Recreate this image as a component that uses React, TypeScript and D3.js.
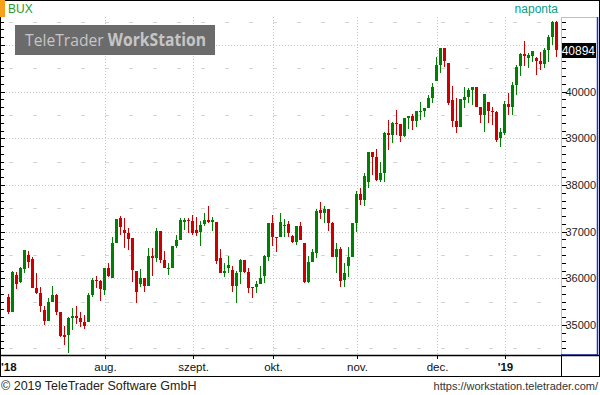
import React from 'react';
import * as d3 from 'd3';

const monthLabels = ["'18", 'aug.', 'szept.', 'okt.', 'nov.', 'dec.', "'19"];
const monthStart = [1, 25, 47, 67, 88, 108, 125];
const monthBold = [true, false, false, false, false, false, true];
const monthGrid = [false, true, true, true, true, true, true];

const openV = [35594,35285,36072,35928,36200,36500,36415,35800,35680,35322,35092,35500,35643,35285,34792,34786,35157,35193,35157,35071,35071,35643,35965,35943,35750,36215,36001,36751,37287,37036,36978,36858,36157,35872,36014,35842,36485,36442,37015,36393,36194,36215,36700,36822,37214,37257,37229,37036,36987,37154,37250,37214,37201,36430,36121,36228,36179,35836,36142,36393,36142,35808,35821,35879,36050,36464,37193,36893,36893,37128,37165,36908,36785,37122,36751,35928,36357,36537,37465,37407,37486,37193,36464,36622,35965,36254,36464,37180,37808,37679,38071,38714,38594,38108,38264,39121,39072,39336,39308,39050,39430,39479,39378,39571,39593,39644,39858,40236,40572,40930,40608,39822,39372,39250,39822,39893,40036,40107,39666,39500,39786,39586,39558,39001,39108,39730,39678,40143,40557,40801,40729,40771,40729,40658,40587,40894,41179,41487];
const highV = [35665,36157,36142,36250,36608,36592,36464,36108,35808,35407,35585,35836,35665,35285,34979,35165,35371,35407,35285,35214,35680,36001,36050,35965,36215,36322,36880,37272,37336,37287,37072,36858,36157,36200,36014,36644,36644,37072,37015,36586,36322,36700,36929,37287,37300,37287,37357,37321,37229,37400,37550,37321,37201,36622,36322,36479,36265,36157,36415,36393,36215,35808,35943,36265,36500,37193,37357,36893,37394,37265,37229,36930,37122,37214,36751,36479,36622,37480,37630,37550,37486,37208,36764,36665,36322,36678,37180,37878,37930,38264,38714,38714,38765,38500,39143,39393,39357,39608,39308,39430,39479,39522,39593,39786,39644,39929,40193,40750,40930,40930,40608,40122,39858,39837,40094,40073,40107,40107,39666,39951,39786,39678,39586,39222,39801,39966,40214,40572,40823,41086,40823,40872,40750,40857,40930,41215,41515,41515];
const lowV = [35236,35279,35765,35907,36121,36215,35800,35658,35285,35000,35092,35500,35214,34737,34572,34407,34893,35022,34964,34915,35071,35607,35787,35521,35643,36022,36001,36751,36929,36644,36608,35922,35482,35821,35714,35842,36050,36357,36322,36215,36072,36215,36644,36822,37036,36965,36929,36914,36700,37122,37193,37021,36307,36121,36035,36121,35714,35478,35879,36115,35680,35585,35692,35879,35894,36378,36693,36571,36893,36893,36893,36760,36715,36822,35907,35907,36357,36430,37265,37193,37021,36464,36108,35821,35821,36029,36464,37000,37572,37557,37930,38215,38093,38071,38071,38750,38907,39072,38928,39023,39194,39179,39250,39393,39464,39644,39751,40236,40394,40523,39715,39237,39121,39250,39644,39751,39715,39666,39323,39136,39323,39286,38922,38821,39072,39500,39500,39929,40343,40557,40501,40643,40358,40465,40501,40643,41001,40744];
const closeV = [35285,36142,35879,36215,36608,36357,35800,35692,35407,35092,35500,35643,35285,34764,34750,35144,35193,35157,35071,34985,35643,35965,35943,35765,36215,36050,36751,37272,37107,36965,36837,36179,35714,36014,35842,36485,36442,37015,36393,36215,36215,36700,36822,37250,37244,37244,36978,36978,37143,37250,37197,37250,36382,36121,36157,36286,35836,36121,36393,36142,35800,35793,35879,36001,36479,37193,36893,36871,37208,37150,36965,36785,37122,36822,35928,36357,36571,37450,37407,37486,37193,36464,36622,35950,36108,36464,37180,37808,37679,38193,38714,38594,38108,38264,39121,39072,39336,39308,39050,39430,39479,39378,39593,39593,39644,39858,40107,40572,40930,40664,39751,39378,39250,39837,39880,40036,40107,39678,39500,39951,39593,39558,38965,39143,39730,39678,40143,40536,40801,40771,40786,40872,40658,40587,40894,41179,41500,40894];

const yTicks = [35000, 36000, 37000, 38000, 39000, 40000, 41000];
const yLabels = [35000, 36000, 37000, 38000, 39000, 40000];
const yHalf = [34500, 35500, 36500, 37500, 38500, 39500, 40500, 41500];
const symbol = 'BUX';
const period = 'naponta';
const lastPrice = 40894;

const FONT = '"Liberation Sans", Arial, sans-serif';
const GREEN = '#008000';
const RED = '#cc0000';

export default function App() {
  const plotL = 0, plotR = 561, plotT = 17, plotB = 355;
  const n = closeV.length;
  const x = d3.scaleLinear().domain([0, n - 1]).range([8.5, 556.5]);
  const y = d3.scaleLinear().domain([35000, 41000]).range([325, 45]);

  const minorTicks: number[] = [];
  for (let k = 0; k <= 60; k++) {
    const v = 34000 + (k * 1000) / 6;
    const py = y(v);
    if (py > plotT + 1 && py < plotB - 1) minorTicks.push(v);
  }

  const candles = closeV.map((c, i) => {
    const o = openV[i];
    const up = c >= o;
    const cx = Math.round(x(i) - 0.5) + 0.5;
    const top = Math.round(y(Math.max(o, c)));
    const bot = Math.round(y(Math.min(o, c)));
    const h = Math.max(1, bot - top);
    return (
      <g key={i}>
        <line x1={cx} x2={cx} y1={Math.round(y(highV[i]))} y2={Math.round(y(lowV[i]))} stroke={up ? GREEN : RED} strokeWidth={1} />
        <rect x={cx - 1.5} y={top} width={3} height={h} fill={up ? GREEN : RED} />
      </g>
    );
  });

  const gx = (i: number) => Math.round(x(i - 0.8)) + 0.5;

  return (
    <svg width={600} height={395} style={{ position: 'absolute', left: 0, top: 0, background: '#fff' }} fontFamily={FONT}>
      <rect x={0} y={0} width={600} height={395} fill="#fff" />
      <defs>
        <clipPath id="plot"><rect x={plotL} y={plotT} width={plotR - plotL} height={plotB - plotT} /></clipPath>
      </defs>
      {/* grid */}
      <g clipPath="url(#plot)">
        {yTicks.map((v) => (
          <line key={'g' + v} x1={plotL} x2={plotR} y1={Math.round(y(v)) + 0.5} y2={Math.round(y(v)) + 0.5} stroke="#c8c8c8" strokeDasharray="1 2" />
        ))}
        {yHalf.map((v) => (
          <line key={'h' + v} x1={plotL + 9} x2={plotR} y1={Math.round(y(v)) + 0.5} y2={Math.round(y(v)) + 0.5} stroke="#d4d4d4" strokeDasharray="4 20" />
        ))}
        {monthStart.map((m, k) => monthGrid[k] ? (
          <line key={'v' + k} x1={gx(m)} x2={gx(m)} y1={plotT} y2={plotB} stroke="#c8c8c8" strokeDasharray="1 2" />
        ) : null)}
      </g>
      {/* watermark */}
      <rect x={15} y={25} width={200} height={30} fill="#6b6b6b" />
      <text x={25} y={46} fontSize={17} fill="#c6c6c6" fontFamily='"Open Sans", "Noto Sans", sans-serif' textLength={181} lengthAdjust="spacingAndGlyphs">
        <tspan>TeleTrader </tspan><tspan fontWeight="bold">WorkStation</tspan>
      </text>
      {/* candles */}
      <g clipPath="url(#plot)">{candles}</g>
      {/* header */}
      <line x1={0} x2={600} y1={0.5} y2={0.5} stroke="#000" />
      <rect x={0} y={0} width={5} height={17} fill="#f7a01c" />
      <text x={8} y={13} fontSize={12} fill="#2a9a2a">{symbol}</text>
      <text x={558} y={13} fontSize={12} fill="#00a08c" textAnchor="end">{period}</text>
      {/* left ticks */}
      <line x1={0.5} x2={0.5} y1={17} y2={377} stroke="#000" />
      {minorTicks.map((v) => (
        <line key={'lt' + v} x1={0} x2={yTicks.includes(Math.round(v)) ? 5 : 4} y1={Math.round(y(v)) + 0.5} y2={Math.round(y(v)) + 0.5} stroke="#000" />
      ))}
      {/* right axis panel */}
      <rect x={561} y={17} width={38} height={339} fill="#fff" />
      <line x1={561.5} x2={561.5} y1={17} y2={355} stroke="#f0c040" />
      <line x1={561} x2={598} y1={17.5} y2={17.5} stroke="#f0c040" />
      <line x1={597.5} x2={597.5} y1={17} y2={356} stroke="#1e32c8" strokeWidth={1.5} />
      <line x1={561} x2={598} y1={355} y2={355} stroke="#1e32c8" strokeWidth={1.5} />
      {minorTicks.map((v) => (
        <line key={'rt' + v} x1={562} x2={yTicks.includes(Math.round(v)) ? 567 : 566} y1={Math.round(y(v)) + 0.5} y2={Math.round(y(v)) + 0.5} stroke="#000" />
      ))}
      {yLabels.map((v) => (
        <text key={'yl' + v} x={596} y={y(v) + 4} fontSize={11} fill="#222" textAnchor="end">{v}</text>
      ))}
      {/* last price */}
      <rect x={562} y={Math.round(y(lastPrice)) - 7} width={34} height={15} fill="#000" />
      <text x={595} y={Math.round(y(lastPrice)) + 4.5} fontSize={12} fill="#fff" textAnchor="end">{lastPrice}</text>
      {/* x axis band */}
      <line x1={0} x2={600} y1={355.5} y2={355.5} stroke="#000" strokeWidth={1.5} />
      <line x1={0} x2={600} y1={376.5} y2={376.5} stroke="#000" />
      <line x1={561.5} x2={561.5} y1={355} y2={377} stroke="#000" />
      <line x1={599.5} x2={599.5} y1={0} y2={377} stroke="#000" />
      {monthStart.map((m, k) => (
        <g key={'ml' + k}>
          {monthGrid[k] && <line x1={gx(m)} x2={gx(m)} y1={356} y2={359} stroke="#000" />}
          <text x={k === 0 ? 1 : gx(m)} y={371} fontSize={11.5} fontWeight={monthBold[k] ? 'bold' : 'normal'} textAnchor={k === 0 ? 'start' : 'middle'} fill="#111">{monthLabels[k]}</text>
        </g>
      ))}
      {/* footer */}
      <text x={1} y={390} fontSize={12.5} fill="#222">© 2019 TeleTrader Software GmbH</text>
      <text x={598} y={390} fontSize={11} fill="#333" textAnchor="end">https://workstation.teletrader.com/</text>
    </svg>
  );
}
